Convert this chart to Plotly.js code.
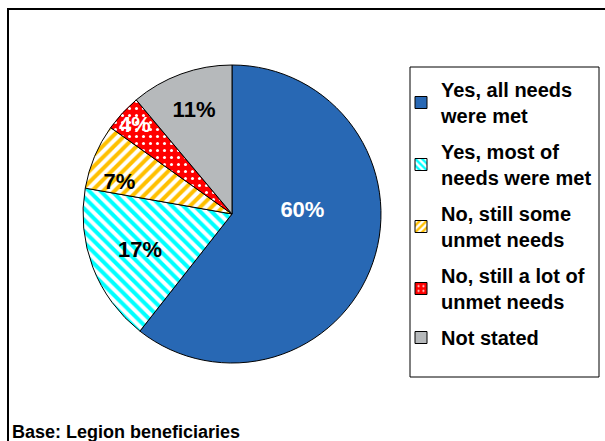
<!DOCTYPE html>
<html>
<head>
<meta charset="utf-8">
<script src="https://cdn.plot.ly/plotly-3.0.1.min.js"></script>
<style>html,body{margin:0;padding:0;background:#fff;}#chart{width:605px;height:441px;}</style>
</head>
<body>
<div id="chart"></div>
<script>
const categories = [
  "Yes, all needs<br>were met",
  "Yes, most of<br>needs were met",
  "No, still some<br>unmet needs",
  "No, still a lot of<br>unmet needs",
  "Not stated"
];
const percentages = [60, 17, 7, 4, 11];
const sliceColors = ["#2868B4", "#00FFFF", "#FFC000", "#FF0000", "#B6B9BB"];
const labelColors = ["#FFFFFF", "#000000", "#000000", "#FFFFFF", "#000000"];
const baseNote = "Base: Legion beneficiaries";

const W = 605, H = 441;
const px = v => v / W;
const py = v => 1 - v / H;
const FONT = "Liberation Sans, Arial, sans-serif";

const patternStyle = {
  shape: ["", "\\", "/", ".", ""],
  fgcolor: ["#2868B4", "#00FFFF", "#FFC000", "#FFFFFF", "#B6B9BB"],
  bgcolor: ["#2868B4", "#FFFFFF", "#FFFFFF", "#FF0000", "#B6B9BB"],
  size: [8, 8, 8, 7, 8],
  solidity: [0.5, 0.5, 0.5, 0.15, 0.5]
};

const pie = {
  type: "pie",
  labels: categories,
  values: percentages,
  sort: false,
  direction: "clockwise",
  rotation: 0,
  showlegend: false,
  texttemplate: ["%{value}%<br> <br> ", "%{value}%", " <br>%{value}%", "%{value}%", "%{value}%"],
  textinfo: "text",
  textposition: "inside",
  insidetextorientation: "horizontal",
  textfont: {family: FONT, size: 22, color: labelColors, weight: "bold"},
  hoverinfo: "label+value",
  marker: {
    colors: sliceColors,
    line: {color: "#000000", width: 1},
    pattern: Object.assign({fillmode: "replace"}, patternStyle)
  },
  domain: {x: [px(82), px(382)], y: [py(363), py(65)]}
};

// legend entries (one per slice, same colours/patterns as the pie)
const legendEntries = categories.map((name, i) => ({
  type: "bar",
  x: [null], y: [null],
  name: name,
  legendgroup: "g" + i,
  showlegend: true,
  hoverinfo: "skip",
  xaxis: "x", yaxis: "y",
  marker: {
    color: sliceColors[i],
    line: {color: "#000000", width: 1},
    pattern: {
      shape: patternStyle.shape[i],
      fgcolor: patternStyle.fgcolor[i],
      bgcolor: patternStyle.bgcolor[i],
      size: 6,
      solidity: patternStyle.solidity[i],
      fillmode: "replace"
    }
  }
}));

const layout = {
  width: W, height: H,
  margin: {l: 0, r: 0, t: 0, b: 0},
  paper_bgcolor: "#FFFFFF",
  plot_bgcolor: "rgba(0,0,0,0)",
  font: {family: FONT, color: "#000000"},
  uniformtext: {mode: "show", minsize: 22},
  showlegend: true,
  xaxis: {visible: false, domain: [0, 0.01], fixedrange: true},
  yaxis: {visible: false, domain: [0, 0.01], fixedrange: true},
  legend: {
    x: px(401), y: py(70), xanchor: "left", yanchor: "top",
    bgcolor: "rgba(0,0,0,0)", borderwidth: 0,
    font: {family: FONT, size: 20, color: "#000000", weight: "bold"},
    traceorder: "grouped",
    tracegroupgap: 7
  },
  shapes: [
    {type: "line", xref: "paper", yref: "paper", x0: px(8), x1: px(8), y0: py(8), y1: py(441), line: {color: "#000000", width: 2}},
    {type: "line", xref: "paper", yref: "paper", x0: px(7), x1: px(605), y0: py(9), y1: py(9), line: {color: "#000000", width: 2}},
    {type: "rect", xref: "paper", yref: "paper", x0: px(410), x1: px(599), y0: py(67), y1: py(377), line: {color: "#000000", width: 1}, fillcolor: "rgba(0,0,0,0)"}
  ],
  annotations: [
    {text: "<b>" + baseNote + "</b>", xref: "paper", yref: "paper", x: px(10), y: py(441), xanchor: "left", yanchor: "bottom", yshift: -3, showarrow: false,
     font: {family: FONT, size: 18, color: "#000000"}}
  ]
};

Plotly.newPlot("chart", [pie].concat(legendEntries), layout, {displayModeBar: false, staticPlot: true});
</script>
</body>
</html>
